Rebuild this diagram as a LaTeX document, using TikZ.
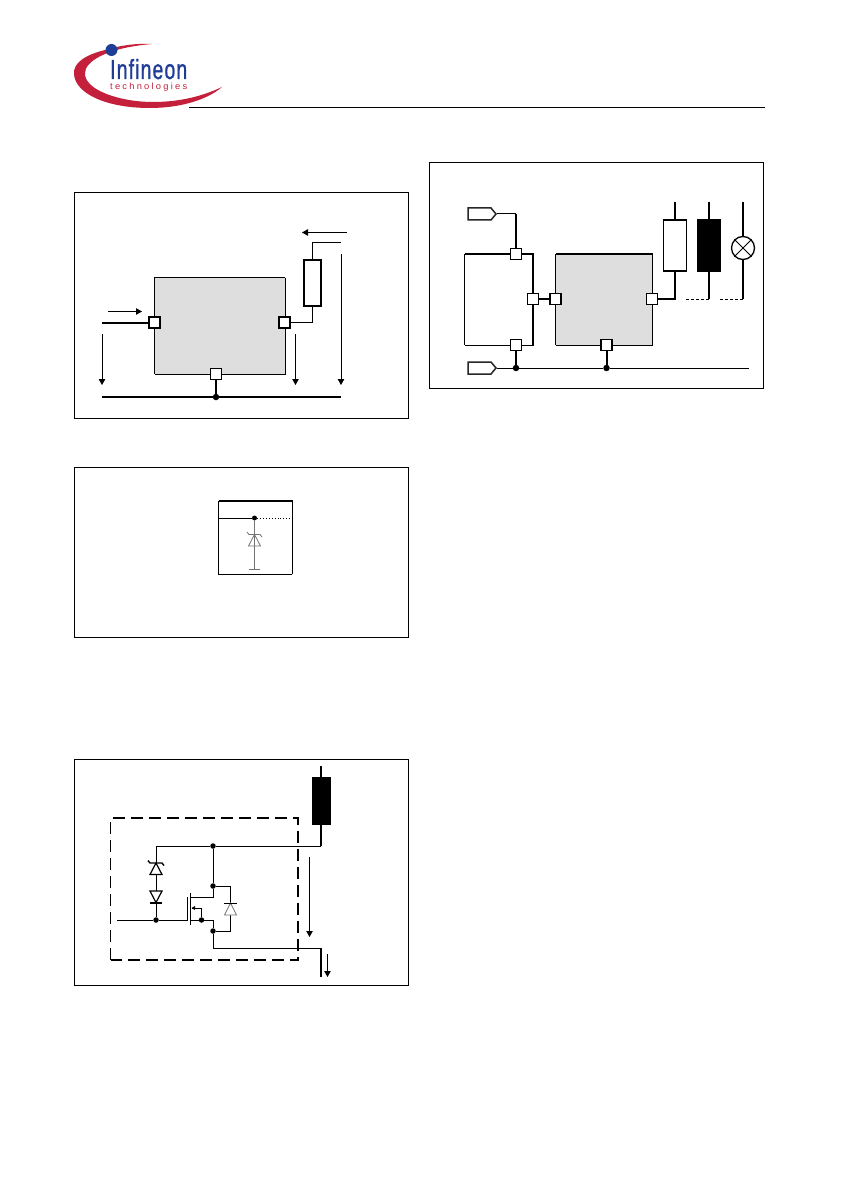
\documentclass[tikz,border=0pt]{standalone}
\usepackage{fontspec}
\usepackage{graphicx}
\setmainfont{Liberation Sans}
\newfontfamily\logoname[LetterSpace=6,FakeBold=1.2]{Liberation Sans}
\newfontfamily\logotech[LetterSpace=24]{Liberation Sans}
\usetikzlibrary{arrows.meta,shapes.symbols}
\definecolor{logored}{HTML}{C4203C}
\definecolor{logoblue}{HTML}{1F3C96}
\definecolor{chipgray}{HTML}{DEDEDE}
\tikzset{
  x=1pt,y=-1pt,
  frame/.style={draw,line width=1pt,fill=white},
  pin/.style={draw,fill=white,line width=1.2pt,minimum width=11pt,minimum height=11pt,inner sep=0pt},
  res/.style={draw,fill=white,line width=1.4pt,inner sep=0pt},
  blackres/.style={draw,fill=black,line width=0.8pt,inner sep=0pt},
  dot/.style={circle,fill=black,inner sep=0pt,minimum size=#1},
  dot/.default=5.5pt,
  wirethin/.style={line width=1pt},
  wiremed/.style={line width=1.5pt},
  wirethick/.style={line width=2pt},
  cur/.style={line width=0.8pt,-{Triangle[length=6pt,width=6.5pt]}},
  port/.style={signal,signal to=east,draw=black!85,fill=white,line width=1.5pt,minimum width=28pt,minimum height=12pt,inner sep=0pt,signal pointer angle=100},
  grayd/.style={draw=black!55,line width=0.8pt},
}
\begin{document}
\begin{tikzpicture}
\useasboundingbox (0,0) rectangle (840,1190);
\fill[white] (0,0) rectangle (840,1190);

% ---------- logo
\fill[logored] (152,44) .. controls (135,43) and (118,46) .. (105,50)
  .. controls (85,55) and (73,63) .. (74,74)
  .. controls (75,93) and (105,108) .. (150,108)
  .. controls (180,108) and (207,100) .. (222,87)
  .. controls (203,96) and (180,102) .. (153,102)
  .. controls (120,102) and (84,90) .. (85,73)
  .. controls (85,62) and (105,48) .. (152,44) -- cycle;
\node[circle,fill=logoblue,inner sep=0pt,minimum size=12pt] (logodot) at (111.5,50) {};
\node[anchor=base west,inner sep=0pt,text=logoblue] (logotitle) at (110,79)
  {\resizebox{77pt}{20pt}{\logoname Infineon}};
\node[anchor=base west,inner sep=0pt,text=logored] (logosub) at (110,90)
  {\resizebox{77pt}{6.5pt}{\logotech technologies}};
\coordinate (hrA) at (189,107.5);
\coordinate (hrB) at (765,107.5);
\draw[line width=0.8pt] (hrA) -- (hrB);

% ---------- frame 1: application circuit
\node[frame,anchor=north west,minimum width=334pt,minimum height=225.5pt,inner sep=0pt] (frameA) at (74,192.5) {};
\node[anchor=north west,fill=chipgray,minimum width=130.5pt,minimum height=96.5pt,inner sep=0pt] (chipA) at (154.5,277.5) {};
\draw[line width=0.9pt] (chipA.south west) -- (chipA.north west) -- (chipA.north east);
\draw[line width=1.8pt] (chipA.north east) -- (chipA.south east) -- (chipA.south west);
\node[pin] (pinAin) at (154.5,322.5) {};
\node[pin] (pinAout) at (284.5,322.5) {};
\node[pin] (pinAgnd) at (216,374) {};
\node[res,minimum width=17pt,minimum height=46pt] (resA) at (312.5,283) {};
\node[dot=6.5pt] (dotA) at (216,397) {};
\coordinate (inA) at (102,322.5);
\coordinate (busAl) at (102,397);
\coordinate (busAr) at (341,397);
\coordinate (supA) at (341,243);
\draw[wirethick] (inA) -- (pinAin.west);
\draw[wirethick] (busAl) -- (dotA) -- (busAr);
\draw[wirethick] (pinAgnd.south) -- (dotA);
\draw[wiremed] (pinAout.east) -| (resA.south);
\draw[wirethin] (resA.north) |- (supA);
\coordinate (a1s) at (108,311.5); \coordinate (a1e) at (142,311.5);
\coordinate (a2s) at (347,232.5); \coordinate (a2e) at (302,232.5);
\coordinate (a3s) at (102,334); \coordinate (a3e) at (102,385);
\coordinate (a4s) at (295.5,334); \coordinate (a4e) at (295.5,385);
\coordinate (a5s) at (341,254); \coordinate (a5e) at (341,385);
\draw[cur] (a1s) -- (a1e);
\draw[cur] (a2s) -- (a2e);
\draw[cur] (a3s) -- (a3e);
\draw[cur] (a4s) -- (a4e);
\draw[cur] (a5s) -- (a5e);

% ---------- frame 2: top right
\node[frame,anchor=north west,minimum width=334pt,minimum height=225.5pt,inner sep=0pt] (frameB) at (429,162.5) {};
\node[anchor=north west,minimum width=68pt,minimum height=91pt,inner sep=0pt] (ctrlB) at (464.5,254) {};
\draw[line width=1.1pt] (ctrlB.south west) -- (ctrlB.north west);
\draw[line width=1.8pt] (ctrlB.north west) -- (ctrlB.north east) -- (ctrlB.south east) -- (ctrlB.south west);
\node[anchor=north west,fill=chipgray,minimum width=97pt,minimum height=91pt,inner sep=0pt] (chipB) at (555.5,254) {};
\draw[line width=1.1pt] (chipB.south west) -- (chipB.north west);
\draw[line width=1.8pt] (chipB.north west) -- (chipB.north east);
\draw[line width=1.1pt] (chipB.north east) -- (chipB.south east);
\draw[line width=1.8pt] (chipB.south east) -- (chipB.south west);
\node[pin] (pinBtop) at (516,254) {};
\node[pin] (pinBr) at (533,299) {};
\node[pin] (pinBb) at (516,345) {};
\node[pin] (pinBin) at (555.5,299) {};
\node[pin] (pinBout) at (652,299) {};
\node[pin] (pinBgnd) at (606.5,345) {};
\node[port] (portBa) at (479.5,214) {};
\node[port] (portBb) at (479.5,368) {};
\node[dot=6.5pt] (dotBa) at (516,368) {};
\node[dot=6.5pt] (dotBb) at (606.5,368) {};
\coordinate (busBr) at (749,368);
\draw[line width=1pt] (portBb.east) -- (dotBa) -- (dotBb) -- (busBr);
\draw[wirethick] (pinBb.south) -- (dotBa);
\draw[wirethick] (pinBgnd.south) -- (dotBb);
\coordinate (portBaTurn) at (516,214);
\draw[wirethin] (portBa.east) -- (portBaTurn);
\draw[wiremed] (portBaTurn) -- (pinBtop.north);
\draw[line width=2.6pt] (pinBr.east) -- (pinBin.west);
\node[draw,fill=white,line width=1.3pt,minimum width=23pt,minimum height=51pt,inner sep=0pt] (resBw) at (675,245.5) {};
\node[blackres,minimum width=23pt,minimum height=52pt] (resBb) at (709,245.5) {};
\node[draw,circle,fill=white,line width=1.3pt,minimum size=23pt,inner sep=0pt] (lampB) at (743,248) {};
\draw[line width=1pt] (lampB.45) -- (lampB.225);
\draw[line width=1pt] (lampB.135) -- (lampB.315);
\coordinate (t1) at (675,202); \coordinate (t2) at (709,202); \coordinate (t3) at (743,202);
\coordinate (d1) at (686,299); \coordinate (d2) at (720,299);
\coordinate (b2) at (709,299); \coordinate (b3) at (743,299);
\draw[wiremed] (t1) -- (resBw.north);
\draw[wiremed] (t2) -- (resBb.north);
\draw[wiremed] (t3) -- (lampB.north);
\draw[wiremed] (pinBout.east) -| (resBw.south);
\draw[wiremed] (resBb.south) -- (b2);
\draw[wiremed] (lampB.south) -- (b3);
\draw[line width=0.9pt,dash pattern=on 3.5pt off 1.5pt] (b2) -- (d1);
\draw[line width=0.9pt,dash pattern=on 3.5pt off 1.5pt] (b3) -- (d2);

% ---------- frame 3: zener input
\node[frame,anchor=north west,minimum width=334pt,minimum height=170pt,inner sep=0pt] (frameC) at (74,467) {};
\node[anchor=north west,minimum width=73.5pt,minimum height=73pt,inner sep=0pt] (boxC) at (218.5,501) {};
\draw[line width=0.9pt] (boxC.south east) -- (boxC.south west) -- (boxC.north west);
\draw[line width=1.6pt] (boxC.north west) -- (boxC.north east) -- (boxC.south east);
\node[dot=5pt] (dotC) at (254.5,518) {};
\coordinate (cL) at (218.5,518); \coordinate (cR) at (292,518);
\coordinate (cG) at (254.5,569);
\draw[wirethin] (cL) -- (dotC);
\draw[line width=0.9pt,dotted] (dotC) -- (cR);
\draw[grayd] (dotC) -- (cG);
\draw[grayd] (249,569) -- (260,569);
\draw[grayd] (254.5,534.5) -- (248.5,546) -- (260.5,546) -- cycle;
\draw[grayd] (247,532) -- (249,534.5) -- (260,534.5) -- (262,537);

% ---------- frame 4: switch
\node[frame,anchor=north west,minimum width=334pt,minimum height=226pt,inner sep=0pt] (frameD) at (74,759) {};
\node[blackres,minimum width=18pt,minimum height=47pt] (resD) at (321,800.5) {};
\node[dot] (dJ1) at (213,846) {};
\node[dot] (dJ2) at (213,886) {};
\node[dot] (dJ3) at (213,931) {};
\node[dot] (dIn) at (156,920) {};
\node[dot] (dBody) at (201.5,920) {};
\coordinate (topD) at (321,766);
\coordinate (corD) at (321,846);
\coordinate (zTop) at (156,846);
\coordinate (lowC) at (321,948);
\coordinate (lowL) at (213,948);
\coordinate (gndD) at (321,977);
\coordinate (inD) at (117,920);
\coordinate (gateD) at (187.5,920);
\draw[wiremed] (topD) -- (resD.north);
\draw[wiremed] (resD.south) -- (corD);
\draw[wirethin] (corD) -- (dJ1) -- (zTop);
\draw[wirethin] (zTop) -- (dIn);
\draw[wirethin] (dJ1) -- (dJ2);
\draw[wirethin] (dJ2) -- (213,897) -- (190.5,897);
\draw[wirethin] (inD) -- (dIn) -- (gateD);
\draw[wirethin] (187.5,897) -- (gateD);
\draw[line width=1.2pt] (190.5,893) -- (190.5,925);
\draw[wirethin] (190.5,920) -- (dBody) -- (213,920) -- (dJ3);
\draw[wirethin] (dBody) -- (201.5,908) -- (192,908);
\fill (191.5,908) -- (195,906) -- (195,910) -- cycle;
\draw[wirethin] (dJ3) -- (lowL) -- (lowC);
\draw[wirethin] (dJ2) -- (230.5,886) -- (230.5,931) -- (dJ3);
\fill[white] (224.5,915) -- (236.5,915) -- (230.5,903) -- cycle;
\draw[grayd] (224.5,915) -- (236.5,915) -- (230.5,903) -- cycle;
\draw[wirethin] (224,903) -- (237,903);
\draw[wirethick] (lowC) -- (gndD);
% zener
\fill[white] (150,874.5) -- (162,874.5) -- (156,863) -- cycle;
\draw[line width=1.2pt] (150,874.5) -- (162,874.5) -- (156,863) -- cycle;
\draw[line width=1.4pt] (148,860.5) -- (150,863) -- (162,863) -- (164,865.5);
% diode
\fill[white] (150,891) -- (162,891) -- (156,902.5) -- cycle;
\draw[line width=1.2pt] (150,891) -- (162,891) -- (156,902.5) -- cycle;
\draw[line width=1.8pt] (150,903) -- (162,903);
% dashed boundary
\draw[line width=1.7pt,dash pattern=on 12pt off 6pt] (110.5,960) -- (110.5,818) -- (298,818) -- (298,960) -- cycle;
\coordinate (a6s) at (309.5,857); \coordinate (a6e) at (309.5,937);
\coordinate (a7s) at (327.5,954); \coordinate (a7e) at (327.5,977);
\draw[cur] (a6s) -- (a6e);
\draw[cur] (a7s) -- (a7e);
\end{tikzpicture}
\end{document}
